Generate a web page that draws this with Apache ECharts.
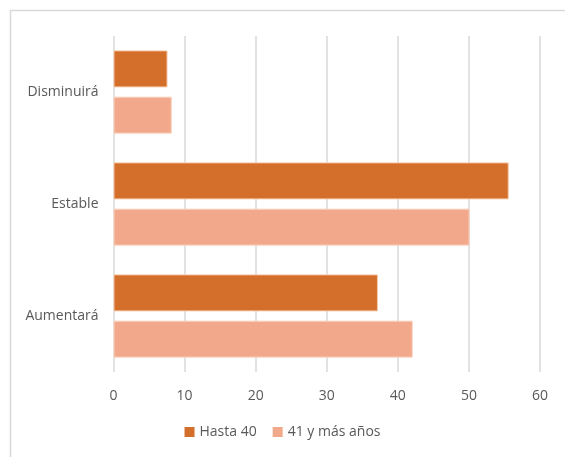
<!DOCTYPE html>
<html><head><meta charset="utf-8">
<script src="https://cdn.jsdelivr.net/npm/echarts@6/dist/echarts.min.js"></script>
<style>html,body{margin:0;padding:0;background:#fff}#c{width:565px;height:457px}</style>
</head><body><div id="c"></div>
<script>
const categories = ['Aumentará', 'Estable', 'Disminuirá'];
const seriesNames = ['Hasta 40', '41 y más años'];
const hasta40 = [37.2, 55.6, 7.6];
const mas41 = [42.1, 50.1, 8.2];
const xTicks = [0, 10, 20, 30, 40, 50, 60];

const chart = echarts.init(document.getElementById('c'), null, {renderer: 'canvas'});
const font = '"Open Sans", "Liberation Sans", sans-serif';
chart.setOption({
  animation: false,
  backgroundColor: '#fff',
  graphic: [{
    type: 'rect', shape: {x: 10.5, y: 10.5, width: 700, height: 600},
    style: {fill: 'none', stroke: '#d9d9d9', lineWidth: 1.5}, silent: true, z: -1
  }],
  grid: {left: 113.5, right: 25, top: 36, bottom: 85, containLabel: false},
  legend: {
    bottom: 13, left: 'center', itemWidth: 10, itemHeight: 10, itemGap: 16,
    icon: 'rect',
    itemStyle: {borderWidth: 0},
    textStyle: {color: '#595959', fontSize: 14, fontFamily: font},
    data: seriesNames
  },
  xAxis: {
    type: 'value', min: xTicks[0], max: xTicks[xTicks.length - 1], interval: 10,
    axisLine: {show: false}, axisTick: {show: false},
    splitLine: {lineStyle: {color: '#d9d9d9', width: 1.5}},
    axisLabel: {color: '#595959', fontSize: 14, fontFamily: font, margin: 17}
  },
  yAxis: {
    type: 'category', data: categories,
    axisLine: {show: false}, axisTick: {show: false},
    axisLabel: {color: '#595959', fontSize: 14, fontFamily: font, margin: 15}
  },
  series: [
    {name: seriesNames[0], type: 'bar', data: hasta40, barWidth: 37, barGap: '25%',
     itemStyle: {color: '#D36F2B', borderColor: '#f6c8a8', borderWidth: 1}},
    {name: seriesNames[1], type: 'bar', data: mas41, barWidth: 37, barGap: '25%',
     itemStyle: {color: '#F2A98B', borderColor: '#f9d3c1', borderWidth: 1}}
  ]
});
</script></body></html>
